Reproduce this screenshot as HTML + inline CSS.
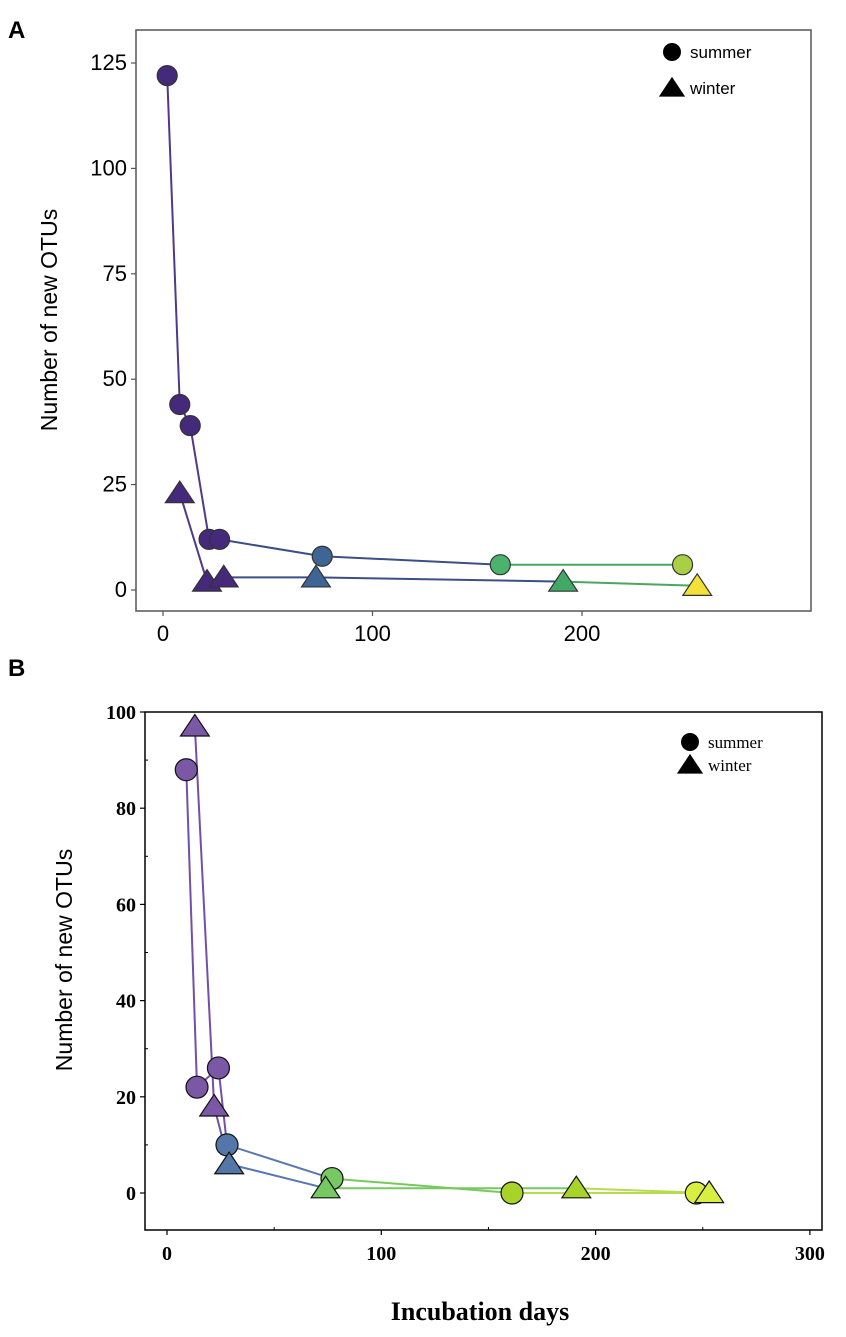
<!DOCTYPE html>
<html><head><meta charset="utf-8"><style>
html,body{margin:0;padding:0;background:#fff;width:846px;height:1337px;overflow:hidden}
svg{display:block}
</style></head><body>
<svg id="fig" width="846" height="1337" xmlns="http://www.w3.org/2000/svg">
<text x="8" y="38" font-family="Liberation Sans, sans-serif" font-weight="bold" font-size="24">A</text>
<text x="8" y="676" font-family="Liberation Sans, sans-serif" font-weight="bold" font-size="24">B</text>
<text transform="translate(57,320) rotate(-90)" text-anchor="middle" font-family="Liberation Sans, sans-serif" font-size="23">Number of new OTUs</text>
<text transform="translate(72,960) rotate(-90)" text-anchor="middle" font-family="Liberation Sans, sans-serif" font-size="23">Number of new OTUs</text>
<text x="480" y="1320" text-anchor="middle" font-family="Liberation Serif, serif" font-weight="bold" font-size="26">Incubation days</text>
<g id="ga"></g>
<g id="gb"></g>
</svg>
<script>
// Panel A data
const aSummerDays = [2, 8, 13, 22, 27, 76, 161, 248];
const aSummerOTUs = [122, 44, 39, 12, 12, 8, 6, 6];
const aWinterDays = [8, 21, 29, 73, 191, 255];
const aWinterOTUs = [23, 2, 3, 3, 2, 1];
const aYTicks = [0, 25, 50, 75, 100, 125];
const aXTicks = [0, 100, 200];
// Panel B data
const bSummerDays = [9, 14, 24, 28, 77, 161, 247];
const bSummerOTUs = [88, 22, 26, 10, 3, 0, 0];
const bWinterDays = [13, 22, 29, 74, 191, 253];
const bWinterOTUs = [97, 18, 6, 1, 1, 0];
const bYTicks = [0, 20, 40, 60, 80, 100];
const bXTicks = [0, 100, 200, 300];

const NS = 'http://www.w3.org/2000/svg';
function mk(parent, tag, attrs) {
  const e = document.createElementNS(NS, tag);
  for (const k in attrs) e.setAttribute(k, attrs[k]);
  parent.appendChild(e);
  return e;
}
function colA(d) {
  if (d < 40) return '#45297a';
  if (d < 120) return '#3e6593';
  if (d < 175) return '#4cb36c';
  if (d < 230) return '#42a866';
  if (d < 252) return '#a9cf45';
  return '#f3e13a';
}
function lineA(d) {
  if (d < 25) return '#4e3a86';
  if (d < 120) return '#3a4f86';
  return '#48a860';
}
function colB(d) {
  if (d < 26) return '#7a58a6';
  if (d < 50) return '#5476a8';
  if (d < 120) return '#76c862';
  if (d < 230) return '#a8d42a';
  return '#d8ee40';
}
function lineB(d) {
  if (d < 26) return '#7250a8';
  if (d < 50) return '#5a78b0';
  if (d < 120) return '#78c860';
  return '#b8dc50';
}
function tri(g, x, y, s, fill, stroke) {
  return mk(g, 'polygon', {points: `${x},${y - s} ${x - s * 1.2},${y + s * 0.8} ${x + s * 1.2},${y + s * 0.8}`, fill: fill, stroke: stroke, 'stroke-width': 1.2});
}

function panel(g, cfg) {
  const X = d => cfg.x0 + d * cfg.sx;
  const Y = v => cfg.y0 - v * cfg.sy;
  mk(g, 'rect', {x: cfg.L, y: cfg.T, width: cfg.R - cfg.L, height: cfg.B - cfg.T, fill: 'none', stroke: cfg.frame, 'stroke-width': cfg.fw});
  cfg.yTicks.forEach(v => {
    mk(g, 'line', {x1: cfg.L - 5, x2: cfg.L, y1: Y(v), y2: Y(v), stroke: cfg.frame, 'stroke-width': 1.2});
    const t = mk(g, 'text', {x: cfg.L - 9, y: Y(v) + 7, 'text-anchor': 'end', 'font-family': cfg.font, 'font-size': cfg.fs, 'font-weight': cfg.fwt});
    t.textContent = v;
    
    
  });
  cfg.xTicks.forEach(v => {
    mk(g, 'line', {x1: X(v), x2: X(v), y1: cfg.B, y2: cfg.B + 5, stroke: cfg.frame, 'stroke-width': 1.2});
    const t = mk(g, 'text', {x: X(v), y: cfg.B + 30, 'text-anchor': 'middle', 'font-family': cfg.font, 'font-size': cfg.fs, 'font-weight': cfg.fwt});
    t.textContent = v;
    
    
  });
  (cfg.minorX || []).forEach(v => mk(g, 'line', {x1: X(v), x2: X(v), y1: cfg.B, y2: cfg.B - 3, stroke: '#000'}));
  (cfg.minorY || []).forEach(v => mk(g, 'line', {x1: cfg.L, x2: cfg.L + 3, y1: Y(v), y2: Y(v), stroke: '#000'}));
  const series = [
    {d: cfg.sDays, v: cfg.sVals, shape: 'circle', name: 'summer'},
    {d: cfg.wDays, v: cfg.wVals, shape: 'tri', name: 'winter'}
  ];
  series.forEach(s => {
    for (let i = 0; i < s.d.length - 1; i++) {
      const l = mk(g, 'line', {x1: X(s.d[i]), y1: Y(s.v[i]), x2: X(s.d[i + 1]), y2: Y(s.v[i + 1]), stroke: cfg.lcol(s.d[i]), 'stroke-width': 2});
      
      
    }
  });
  series.forEach(s => {
    s.d.forEach((d, i) => {
      const c = cfg.col(d);
      let m;
      if (s.shape === 'circle') m = mk(g, 'circle', {cx: X(d), cy: Y(s.v[i]), r: cfg.r, fill: c, stroke: cfg.mstroke, 'stroke-width': 1.2});
      else m = tri(g, X(d), Y(s.v[i]), cfg.ts, c, cfg.mstroke);
      
      
    });
  });
  const lc = mk(g, 'circle', {cx: cfg.lx, cy: cfg.ly, r: 9, fill: '#000'});
  
  
  const lt = tri(g, cfg.lx, cfg.ly + cfg.lgap, 10, '#000', '#000');
  
  
  const t1 = mk(g, 'text', {x: cfg.lx + 18, y: cfg.ly + 6, 'font-family': cfg.lfont, 'font-size': 17});
  t1.textContent = 'summer';
  
  
  const t2 = mk(g, 'text', {x: cfg.lx + 18, y: cfg.ly + cfg.lgap + 6, 'font-family': cfg.lfont, 'font-size': 17});
  t2.textContent = 'winter';
  
  
}

panel(document.getElementById('ga'), {
  L: 136, R: 811, T: 30, B: 611, x0: 163, sx: 2.095, y0: 590, sy: 4.216,
  frame: '#555', fw: 1.5, font: 'Liberation Sans, sans-serif', fs: 22, fwt: 'normal',
  yTicks: aYTicks, xTicks: aXTicks, sDays: aSummerDays, sVals: aSummerOTUs, wDays: aWinterDays, wVals: aWinterOTUs,
  col: colA, lcol: lineA, r: 10, ts: 12, mstroke: '#333', lx: 672, ly: 52, lgap: 36, lfont: 'Liberation Sans, sans-serif'
});
panel(document.getElementById('gb'), {
  L: 145, R: 822, T: 712, B: 1230, x0: 167, sx: 2.143, y0: 1193, sy: 4.81,
  frame: '#000', fw: 1.5, font: 'Liberation Serif, serif', fs: 20, fwt: 'bold',
  yTicks: bYTicks, xTicks: bXTicks, sDays: bSummerDays, sVals: bSummerOTUs, wDays: bWinterDays, wVals: bWinterOTUs,
  minorX: [50, 150, 250], minorY: [10, 30, 50, 70, 90],
  col: colB, lcol: lineB, r: 11, ts: 12, mstroke: '#111', lx: 690, ly: 742, lgap: 23, lfont: 'Liberation Serif, serif'
});
</script>
</body></html>
